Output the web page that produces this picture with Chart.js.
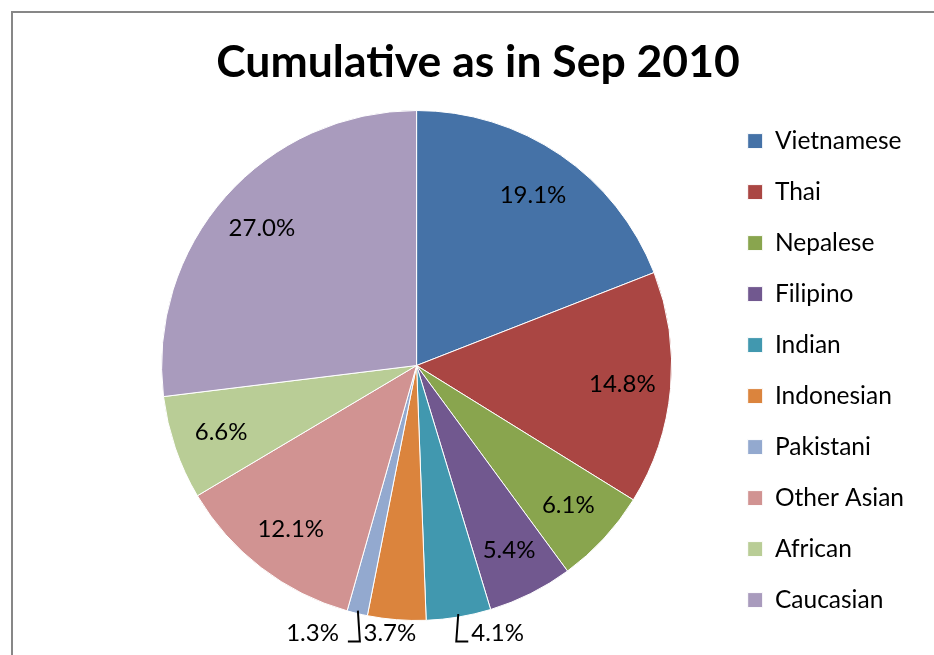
<!DOCTYPE html>
<html>
<head>
<meta charset="utf-8">
<title>Cumulative as in Sep 2010</title>
<script src="https://cdn.jsdelivr.net/npm/chart.js@4"></script>
<style>
  html, body { margin: 0; padding: 0; background: #fff; overflow: hidden; }
  #wrap { position: relative; width: 934px; height: 655px; }
  #frame {
    position: absolute; left: 11px; top: 11px; width: 940px; height: 660px;
    border-left: 2px solid #878787; border-top: 2px solid #878787;
    pointer-events: none;
  }
  #title {
    position: absolute; left: 0; top: 33px; width: 956px; text-align: center;
    font: bold 44.5px Lato, Calibri, sans-serif; color: #000; line-height: 54px;
  }
  canvas { position: absolute; left: 0; top: 0; }
</style>
</head>
<body>
<div id="wrap">
  <canvas id="chartOrigin" width="934" height="655"></canvas>
  <div id="title">Cumulative as in Sep 2010</div>
  <div id="frame"></div>
</div>
<script>
/* Cumulative breakdown by origin, Sep 2010 — pie with % labels */
const CATEGORIES = [
  "Vietnamese", "Thai", "Nepalese", "Filipino", "Indian",
  "Indonesian", "Pakistani", "Other Asian", "African", "Caucasian"
];
const SHARES = [19.1, 14.8, 6.1, 5.4, 4.1, 3.7, 1.3, 12.1, 6.6, 27.0];
const PALETTE = [
  "#4572A7", "#AA4643", "#89A54E", "#71588F", "#4198AF",
  "#DB843D", "#93A9CF", "#D19392", "#B9CD96", "#A99BBD"
];
const FONT = "Lato, Calibri, 'Open Sans', sans-serif";

(function () {
  "use strict";

  // small slices get their label under the pie; "left"/"right" adds an elbow leader
  const OUTSIDE = { 4: "right", 5: "center", 6: "left" };

  const pctLabels = {
    id: "pctLabels",
    afterDatasetsDraw(chart) {
      const ctx = chart.ctx;
      const meta = chart.getDatasetMeta(0);
      const data = chart.data.datasets[0].data;
      ctx.save();
      ctx.font = "24px " + FONT;
      ctx.fillStyle = "#000";
      ctx.strokeStyle = "#000";
      ctx.lineWidth = 2;
      ctx.textBaseline = "middle";
      meta.data.forEach((arc, i) => {
        const p = arc.getProps(["x", "y", "startAngle", "endAngle", "outerRadius"], true);
        const mid = (p.startAngle + p.endAngle) / 2;
        const txt = data[i].toFixed(1) + "%";
        const side = OUTSIDE[i];
        if (!side) {
          const r = p.outerRadius * 0.81;
          ctx.textAlign = "center";
          ctx.fillText(txt, p.x + Math.cos(mid) * r, p.y + Math.sin(mid) * r);
          return;
        }
        const ex = p.x + Math.cos(mid) * (p.outerRadius - 3);
        const ey = p.y + Math.sin(mid) * (p.outerRadius - 3);
        const ly = p.y + p.outerRadius + 13;
        if (side === "center") {
          ctx.textAlign = "center";
          ctx.fillText(txt, ex - 7, ly);
          return;
        }
        const dir = side === "right" ? 1 : -1;
        const by = ly + 8;
        const bx = ex - dir * 2;
        ctx.beginPath();
        ctx.moveTo(ex, ey);
        ctx.lineTo(bx, by);
        ctx.lineTo(bx + dir * 12, by);
        ctx.stroke();
        ctx.textAlign = side === "right" ? "left" : "right";
        ctx.fillText(txt, bx + dir * (side === "right" ? 15 : 21), ly);
      });
      ctx.restore();
    }
  };

  new Chart(document.getElementById("chartOrigin"), {
    type: "pie",
    data: {
      labels: CATEGORIES,
      datasets: [{
        data: SHARES,
        backgroundColor: PALETTE,
        borderColor: "#fff",
        borderWidth: 1
      }]
    },
    options: {
      responsive: false,
      animation: false,
      radius: 255,
      layout: { padding: { left: 112, right: 20, top: 76, bottom: 0 } },
      plugins: {
        title: { display: false },
        legend: {
          position: "right",
          // empty title only nudges the item column down a little
          title: { display: true, text: "", font: { size: 1 }, padding: { top: 9, bottom: 0 } },
          labels: {
            color: "#000",
            boxWidth: 15,
            boxHeight: 15,
            padding: 26.5,
            font: { family: FONT, size: 24.5 }
          }
        },
        tooltip: { enabled: false }
      }
    },
    plugins: [pctLabels]
  });
})();
</script>
</body>
</html>
